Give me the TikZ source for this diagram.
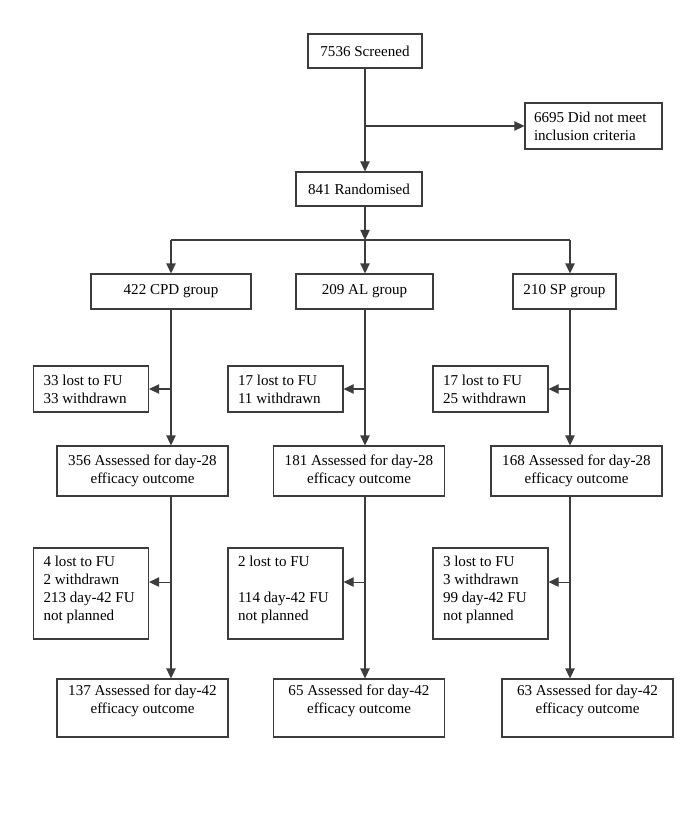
\documentclass[tikz,border=0pt]{standalone}
\usepackage{fontspec}
\setmainfont{Liberation Serif}
\usepackage{tikz}
\usetikzlibrary{arrows.meta,calc}
\definecolor{edge}{HTML}{3C3C3C}
\tikzset{
  box/.style={draw=edge, line width=0.8pt, rectangle, inner xsep=7.5pt, inner ysep=0pt,
    font=\fontsize{11.3}{13.5}\selectfont},
  midbox/.style={box, align=center},
  leftbox/.style={box, align=flush left, text width=71.25pt},
  flow/.style={draw=edge, line width=0.8pt, -{Triangle[length=7.5pt,width=7pt]}},
  link/.style={draw=edge, line width=0.8pt},
}

\begin{document}
\begin{tikzpicture}[x=0.75pt, y=-0.75pt]
  \useasboundingbox (0,0) rectangle (685,827);
  \node[midbox, minimum width=85.5pt, minimum height=25.5pt] (scr) at (365,51) {7536 Screened};
  \node[box, align=flush left, text width=89.25pt, inner xsep=6.75pt, minimum height=34.5pt] (excl) at (593.5,126)
    {6695 Did not meet\\inclusion criteria};
  \node[midbox, minimum width=94.5pt, minimum height=25.5pt] (rand) at (359,189) {841 Randomised};
  \node[midbox, minimum width=120pt, minimum height=26.25pt] (cpd) at (171,291.5) {422 CPD group};
  \node[midbox, minimum width=102.75pt, minimum height=26.25pt] (al) at (364.5,291.5) {209 AL group};
  \node[midbox, minimum width=77.25pt, minimum height=26.25pt] (sp) at (564.5,291.5) {210 SP group};
  % losses before day 28
  \node[leftbox, minimum height=34.5pt] (cpd-lost1) at (91,389) {33 lost to FU\\33 withdrawn};
  \node[leftbox, minimum height=34.5pt] (al-lost1) at (285.5,389) {17 lost to FU\\11 withdrawn};
  \node[leftbox, minimum height=34.5pt] (sp-lost1) at (490.5,389) {17 lost to FU\\25 withdrawn};
  % losses before day 42
  \node[leftbox, minimum height=68.25pt, text depth=48pt] (cpd-lost2) at (91,593.5)
    {4 lost to FU\\2 withdrawn\\213 day-42 FU\\not planned};
  \node[leftbox, minimum height=68.25pt, text depth=48pt] (al-lost2) at (285.5,593.5)
    {2 lost to FU\\[13.5pt]114 day-42 FU\\not planned};
  \node[leftbox, minimum height=68.25pt, text depth=48pt] (sp-lost2) at (490.5,593.5)
    {3 lost to FU\\3 withdrawn\\99 day-42 FU\\not planned};
  \foreach \g/\xa/\xb/\na/\nb in {cpd/142.5/142.5/356/137, al/359/359/181/65, sp/576.5/587.5/168/63}{
    \node[midbox, minimum width=128.25pt, minimum height=37.5pt] (\g-d28) at (\xa,471)
      {\na{} Assessed for day-28\\efficacy outcome};
    \node[midbox, minimum width=128.25pt, minimum height=43.5pt, text depth=13pt] (\g-d42) at (\xb,708)
      {\nb{} Assessed for day-42\\efficacy outcome};
  }

  \coordinate (split) at (365,240);
  \coordinate (colA) at (171,240);
  \coordinate (colB) at (365,240);
  \coordinate (colC) at (570,240);
  \draw[flow] (scr.south) -- (scr.south |- rand.north);
  \draw[flow] (scr.south |- excl.west) -- (excl.west);
  \draw[flow] (rand.south -| split) -- (split);
  \draw[link] (colA) -- (colC);
  \draw[flow] (colA) -- (cpd.north -| colA);
  \draw[flow] (colB) -- (al.north -| colB);
  \draw[flow] (colC) -- (sp.north -| colC);
  \foreach \g/\c in {cpd/colA, al/colB, sp/colC}{
    \coordinate (\g-tap) at ([yshift=8.6pt]\g-lost2.east);
    \draw[flow] (\g.south -| \c) -- (\g-d28.north -| \c);
    \draw[flow] (\g-lost1.east -| \c) -- (\g-lost1.east);
    \draw[flow] (\g-d28.south -| \c) -- (\g-d42.north -| \c);
    \draw[flow] (\g-tap -| \c) -- (\g-tap);
  }
\end{tikzpicture}
\end{document}
